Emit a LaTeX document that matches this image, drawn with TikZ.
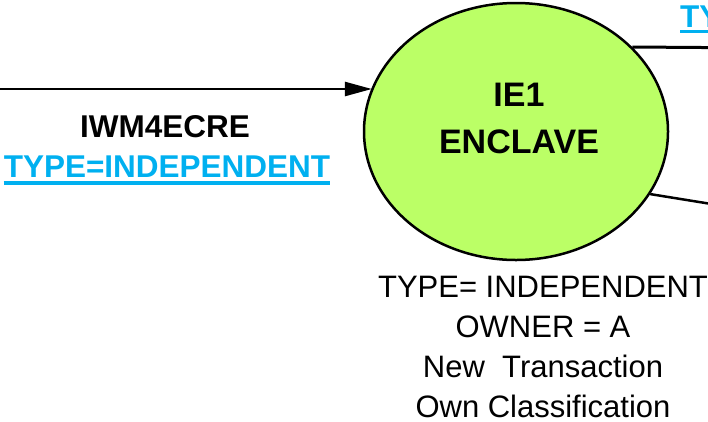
\documentclass[tikz,border=0pt]{standalone}
\usepackage{fontspec}
\setmainfont{Liberation Sans}
\usepackage{tikz}
\usetikzlibrary{arrows.meta,positioning,calc,shapes.geometric}
\definecolor{enclavegreen}{HTML}{BBFF66}
\definecolor{linkblue}{HTML}{00B0F0}

\begin{document}
\begin{tikzpicture}[
  x=1pt, y=-1pt,
  enclave/.style={
    ellipse,
    draw=black,
    line width=2.5pt,
    fill=enclavegreen,
    minimum width=304pt,
    minimum height=257pt,
    inner sep=0pt
  },
  enclavetext/.style={
    align=center,
    inner sep=0pt,
    font=\fontsize{34}{47}\selectfont\bfseries
  },
  callname/.style={
    inner sep=0pt,
    font=\fontsize{31.5}{40}\selectfont\bfseries
  },
  typelink/.style={
    inner sep=0pt,
    text=linkblue,
    font=\fontsize{31.5}{40}\selectfont\bfseries
  },
  attrs/.style={
    align=center,
    inner sep=0pt,
    font=\fontsize{31}{40}\selectfont
  },
  uline/.style={draw=linkblue, line width=3.5pt},
  arrow/.style={-{Triangle[length=27pt,width=14pt]}, line width=2.5pt, draw=black},
  link/.style={line width=2.5pt, draw=black}
]

\useasboundingbox (0,0) rectangle (708,421);
\clip (0,0) rectangle (708,421);

\node[enclave] (ie1) at (516,131.5) {};
\node[enclavetext, anchor=north] (ie1lbl) at (519,83) {IE1\\ENCLAVE};

\node[callname, anchor=base] (call) at (165,137) {IWM4ECRE};
\node[typelink, anchor=base] (calltype) at (167,177) {TYPE=INDEPENDENT};
\draw[uline] ($(calltype.base west)+(0,6)$) -- ($(calltype.base east)+(0,6)$);

\node[typelink, anchor=base west] (outtype) at (680,27) {TYPE=INDEPENDENT};
\draw[uline] ($(outtype.base west)+(0,4.5)$) -- ($(outtype.base east)+(0,4.5)$);

\node[attrs, anchor=north] (ie1attrs) at (543,276) {TYPE= INDEPENDENT\\
  OWNER = A\\
  New\ \ Transaction\\
  Own Classification};

\coordinate (src) at (-5,89);
\coordinate (outa) at (730,47.7);
\coordinate (outb) at (730,207);

\draw[arrow] (src) -- (src -| ie1.163.5);
\draw[link, line width=3pt] (ie1.36.1) -- (outa);
\draw[link] (ie1.-25.7) -- (outb);

\end{tikzpicture}
\end{document}
